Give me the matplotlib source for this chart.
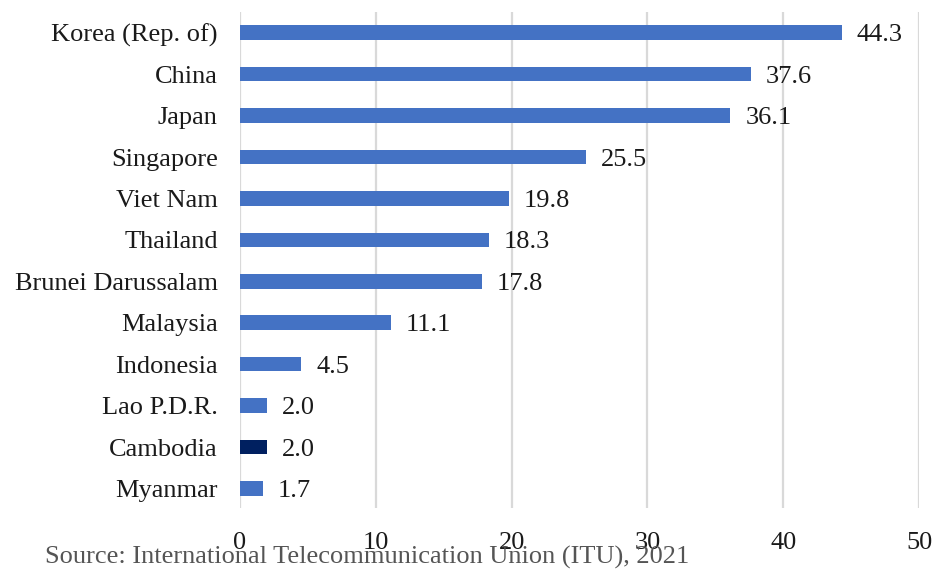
import matplotlib.pyplot as plt
import numpy as np

plt.rcParams['font.family'] = ['Liberation Serif', 'DejaVu Serif']

countries = ["Myanmar", "Cambodia", "Lao P.D.R.", "Indonesia", "Malaysia",
             "Brunei Darussalam", "Thailand", "Viet Nam", "Singapore", "Japan",
             "China", "Korea (Rep. of)"]
values = [1.7, 2.0, 2.0, 4.5, 11.1, 17.8, 18.3, 19.8, 25.5, 36.1, 37.6, 44.3]
highlight = "Cambodia"

blue = "#4472C4"
navy = "#002060"
colors = [navy if c == highlight else blue for c in countries]

fig = plt.figure(figsize=(9.35, 5.72), dpi=100)
ax = fig.add_axes([0.2567, 0.112, 0.7263, 0.867])

y = np.arange(len(countries))
ax.barh(y, values, height=0.35, color=colors, zorder=3)

for yi, v in zip(y, values):
    ax.text(v + 1.1, yi, f"{v:.1f}", va="center_baseline", ha="left",
            fontsize=19, color="#1a1a1a")

ax.set_xlim(0, 50)
ax.set_ylim(-0.47, 11.5)
ax.set_xticks(np.arange(0, 51, 10))
ax.set_yticks(y)
ax.set_yticklabels(countries, va="center_baseline")
ax.tick_params(axis="both", length=0, labelsize=19, colors="#1a1a1a")
ax.tick_params(axis="x", pad=17)
ax.tick_params(axis="y", pad=16)

ax.grid(axis="x", color="#d9d9d9", linewidth=1.6, zorder=0)
for s in ax.spines.values():
    s.set_visible(False)

fig.text(0.048, 0.025, "Source: International Telecommunication Union (ITU), 2021",
         fontsize=19, color="#555555", ha="left", va="center")

fig.savefig("out.png", dpi=100)
